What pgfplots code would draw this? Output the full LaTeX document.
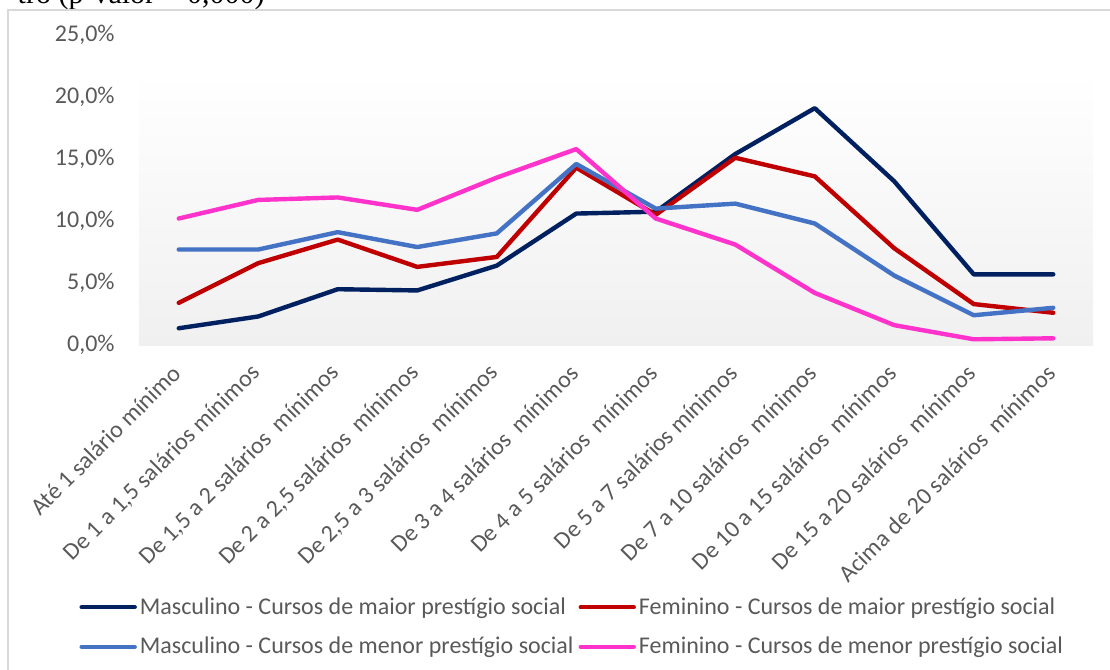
\documentclass[border=0pt]{standalone}
\usepackage{fontspec}
\setmainfont{Carlito}
\newfontfamily\timesfont{Liberation Serif}
\usepackage{pgfplots}
\pgfplotsset{compat=1.18}
\definecolor{cnavy}{HTML}{002060}
\definecolor{cred}{HTML}{C00000}
\definecolor{cblue}{HTML}{4472C4}
\definecolor{cmag}{HTML}{FF33CC}
\definecolor{textgray}{HTML}{595959}
\definecolor{framegray}{HTML}{D9D9D9}
\definecolor{bggray}{HTML}{F0F0F0}
\begin{document}
\begin{tikzpicture}
\path[use as bounding box, clip] (0,0) rectangle (555pt,335pt);
\node[anchor=base east, font=\timesfont\fontsize{15}{18}\selectfont, inner sep=0pt] at (132.5pt,333pt) {tro (p-valor = 0,000)};
\draw[color=framegray, line width=1pt] (4pt,-10pt) -- (4pt,330pt) -- (600pt,330pt);
\begin{axis}[
  at={(69.5pt,162.5pt)}, anchor=south west,
  scale only axis, width=477pt, height=155pt,
  xmin=-0.5, xmax=11.5, ymin=0, ymax=25,
  axis x line=bottom, axis y line=left,
  x axis line style={-, draw=framegray, line width=1pt},
  y axis line style={draw=none},
  major tick length=0pt,
  xtick={0,...,11},
  xticklabels={Até 1 salário mínimo, De 1 a 1{,}5 salários mínimos, De 1{,}5 a 2 salários\ \ mínimos, De 2 a 2{,}5 salários\ \ mínimos, De 2{,}5 a 3 salários\ \ mínimos, De 3 a 4 salários\ \ mínimos, De 4 a 5 salários\ \ mínimos, De 5 a 7 salários mínimos, De 7 a 10 salários\ \ mínimos, De 10 a 15 salários\ \ mínimos, De 15 a 20 salários\ \ mínimos, Acima de 20 salários\ \ mínimos},
  ytick={0,5,10,15,20,25},
  yticklabels={{0,0\%},{5,0\%},{10,0\%},{15,0\%},{20,0\%},{25,0\%}},
  /pgf/number format/assume math mode=true,
  tick label style={font=\fontsize{12}{14}\selectfont, text=textgray},
  xticklabel style={yshift=-12pt, xshift=-1pt, rotate=45, anchor=east, inner sep=0pt},
  yticklabel style={anchor=east, inner sep=0pt, xshift=-12pt},
  legend columns=2,
  legend image code/.code={\draw[#1] (0pt,0pt) -- (26.5pt,0pt);},
  legend style={at={(-0.0628,-0.9097)}, anchor=west, draw=none, fill=none,
    inner sep=0pt, row sep=10pt, font=\fontsize{12}{14}\selectfont, text=textgray,
    nodes={inner sep=0pt, anchor=west},
    /tikz/every odd column/.append style={column sep=1.5pt},
    /tikz/every even column/.append style={column sep=2.5pt}},
  every axis plot/.append style={line width=2.2pt, line join=round, line cap=round},
]
\fill[top color=white, bottom color=bggray] (axis cs:-0.5,0) rectangle (axis cs:11.5,22);
\addplot[cnavy] coordinates {(0,1.35) (1,2.3) (2,4.5) (3,4.4) (4,6.4) (5,10.6) (6,10.75) (7,15.4) (8,19.1) (9,13.2) (10,5.7) (11,5.7)};
\addplot[cred] coordinates {(0,3.4) (1,6.6) (2,8.5) (3,6.3) (4,7.1) (5,14.3) (6,10.5) (7,15.1) (8,13.6) (9,7.8) (10,3.3) (11,2.6)};
\addplot[cblue] coordinates {(0,7.7) (1,7.7) (2,9.1) (3,7.9) (4,9.0) (5,14.6) (6,11.0) (7,11.4) (8,9.8) (9,5.6) (10,2.4) (11,3.0)};
\addplot[cmag] coordinates {(0,10.2) (1,11.7) (2,11.9) (3,10.9) (4,13.5) (5,15.8) (6,10.2) (7,8.1) (8,4.2) (9,1.6) (10,0.46) (11,0.54)};
\legend{Masculino - Cursos de maior prestígio social, Feminino - Cursos de maior prestígio social, Masculino - Cursos de menor prestígio social, Feminino - Cursos de menor prestígio social}
\end{axis}
\end{tikzpicture}
\end{document}
